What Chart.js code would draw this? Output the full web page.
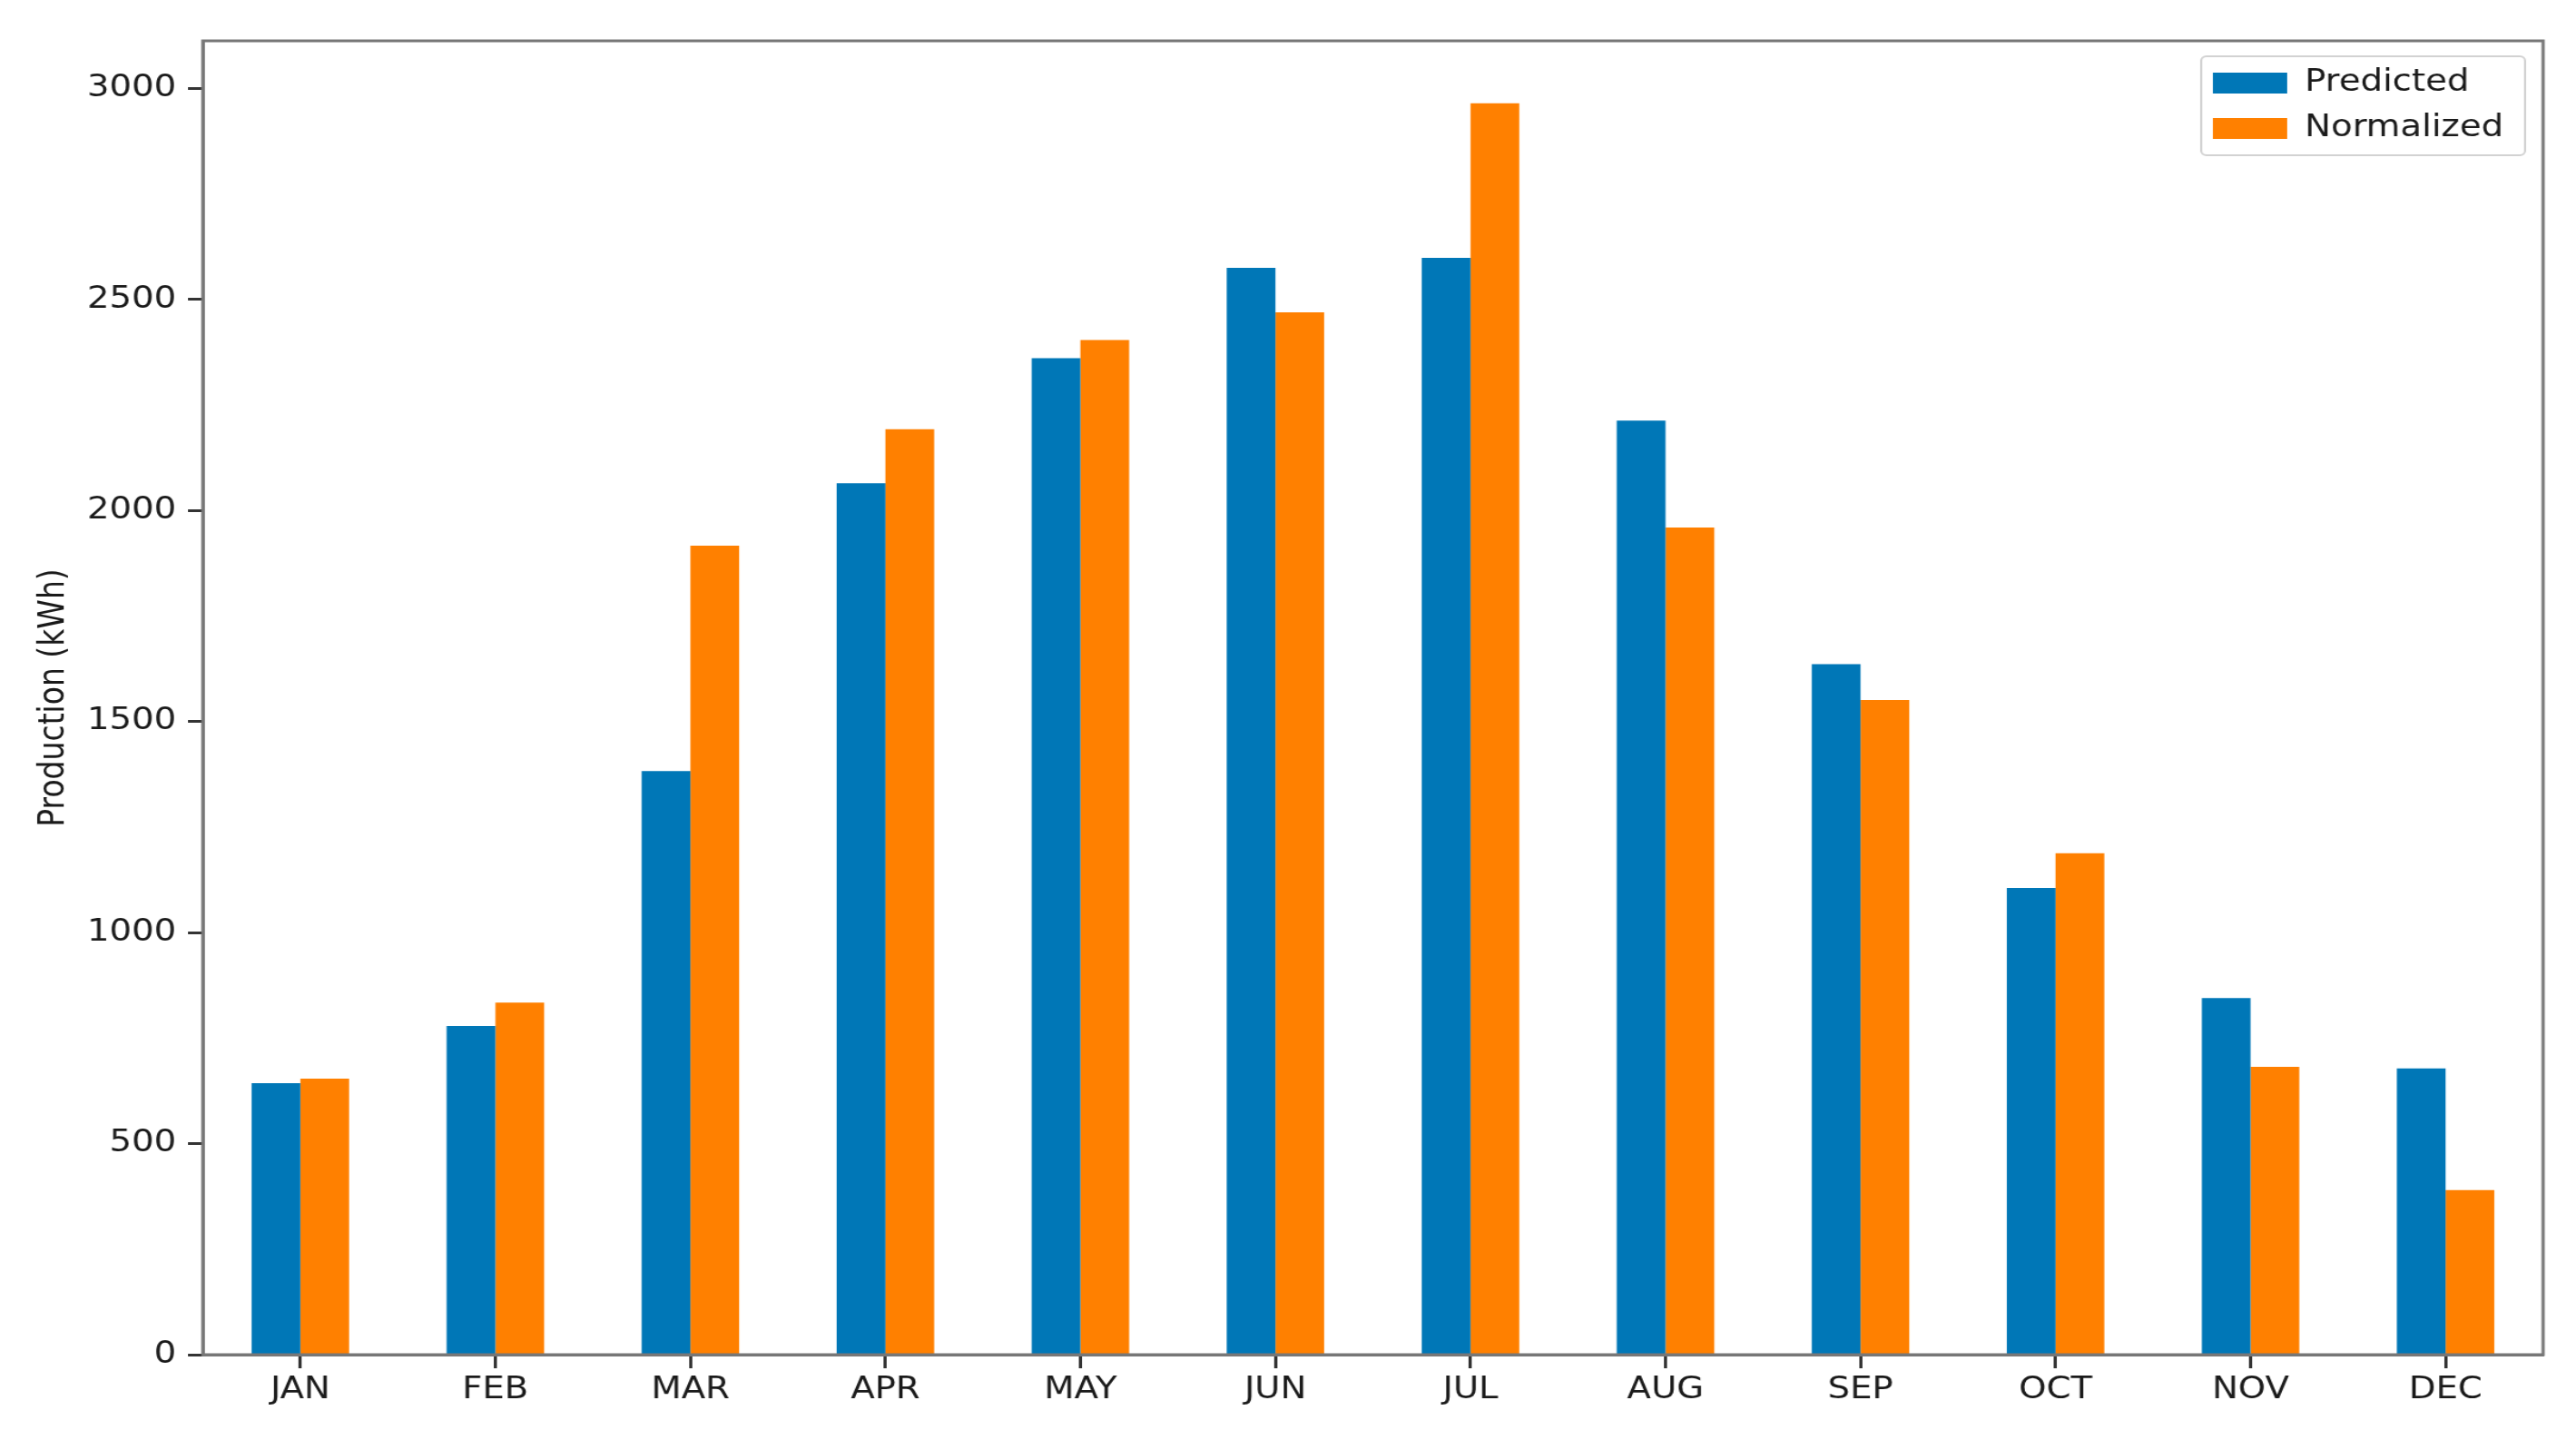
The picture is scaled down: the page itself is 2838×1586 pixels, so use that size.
<!DOCTYPE html>
<html><head><meta charset="utf-8">
<script src="https://cdn.jsdelivr.net/npm/chart.js@4.4.1/dist/chart.umd.min.js"></script>
<style>html,body{margin:0;padding:0;background:#fff;overflow:hidden}</style>
</head><body>
<canvas id="c" width="2426" height="1586" style="width:2838px;height:1586px;display:block"></canvas>
<script>
const months = ['JAN','FEB','MAR','APR','MAY','JUN','JUL','AUG','SEP','OCT','NOV','DEC'];
const predicted = [643, 779, 1383, 2065, 2361, 2575, 2599, 2213, 1636, 1106, 845, 678];
const normalized = [654, 834, 1917, 2193, 2404, 2470, 2965, 1960, 1551, 1188, 682, 390];
const yTickValues = [0, 500, 1000, 1500, 2000, 2500, 3000];
const seriesNames = ['Predicted', 'Normalized'];
const yLabel = 'Production (kWh)';

const FONT = 'DejaVu Sans';
const TXT = '#1a1a1a';

const framePlugin = {
  id: 'framePlugin',
  afterLayout(chart) {
    const lg = chart.legend;
    if (!lg) return;
    lg.left = 2067; lg.top = 58; lg.right = 2067 + 330; lg.bottom = 1300;
  },
  beforeDraw(chart) {
    const ctx = chart.ctx;
    ctx.save();
    ctx.fillStyle = 'rgba(255,255,255,0.8)';
    ctx.strokeStyle = '#d2d2d2';
    ctx.lineWidth = 2;
    ctx.beginPath();
    ctx.roundRect(2073, 62, 305, 109, 5);
    ctx.fill(); ctx.stroke();
    ctx.restore();
  },
  afterDraw(chart) {
    const a = chart.chartArea, ctx = chart.ctx;
    ctx.save();
    ctx.strokeStyle = '#777';
    ctx.lineWidth = 3;
    ctx.strokeRect(a.left, a.top, a.right - a.left, a.bottom - a.top);
    ctx.restore();
  }
};

new Chart(document.getElementById('c'), {
  type: 'bar',
  data: {
    labels: months,
    datasets: [
      { label: seriesNames[0], data: predicted, backgroundColor: '#0077b7', borderWidth: 0 },
      { label: seriesNames[1], data: normalized, backgroundColor: '#ff8000', borderWidth: 0 }
    ]
  },
  options: {
    responsive: false,
    animation: false,
    devicePixelRatio: 1,
    layout: { padding: { top: 45, right: 31, left: 0, bottom: 0 } },
    datasets: { bar: { categoryPercentage: 0.5, barPercentage: 1.0 } },
    plugins: {
      tooltip: { enabled: false },
      legend: {
        position: 'chartArea',
        align: 'start',
        labels: {
          font: { family: FONT, size: 33 },
          color: TXT,
          boxWidth: 70,
          boxHeight: 23,
          padding: 17
        }
      }
    },
    scales: {
      x: {
        offset: true,
        grid: { display: true, drawOnChartArea: false, offset: false, tickLength: 15, tickWidth: 3, tickColor: '#333' },
        border: { display: true, color: '#777', width: 3 },
        ticks: { font: { family: FONT, size: 33 }, color: TXT, padding: 5, maxRotation: 0, autoSkip: false },
        afterFit(s) { s.height = 94; }
      },
      y: {
        min: 0,
        max: 3113,
        afterBuildTicks(s) { s.ticks = yTickValues.map(v => ({ value: v })); },
        grid: { display: true, drawOnChartArea: false, tickLength: 14, tickWidth: 3, tickColor: '#333' },
        border: { display: true, color: '#777', width: 3 },
        ticks: { font: { family: FONT, size: 33 }, color: TXT, padding: 11, callback: v => String(v) },
        title: { display: true, text: yLabel, font: { family: FONT, size: 33 }, color: TXT, padding: { top: 32, bottom: 0 } },
        afterFit(s) { s.width = 191; }
      }
    }
  },
  plugins: [framePlugin]
});
</script>
</body></html>
